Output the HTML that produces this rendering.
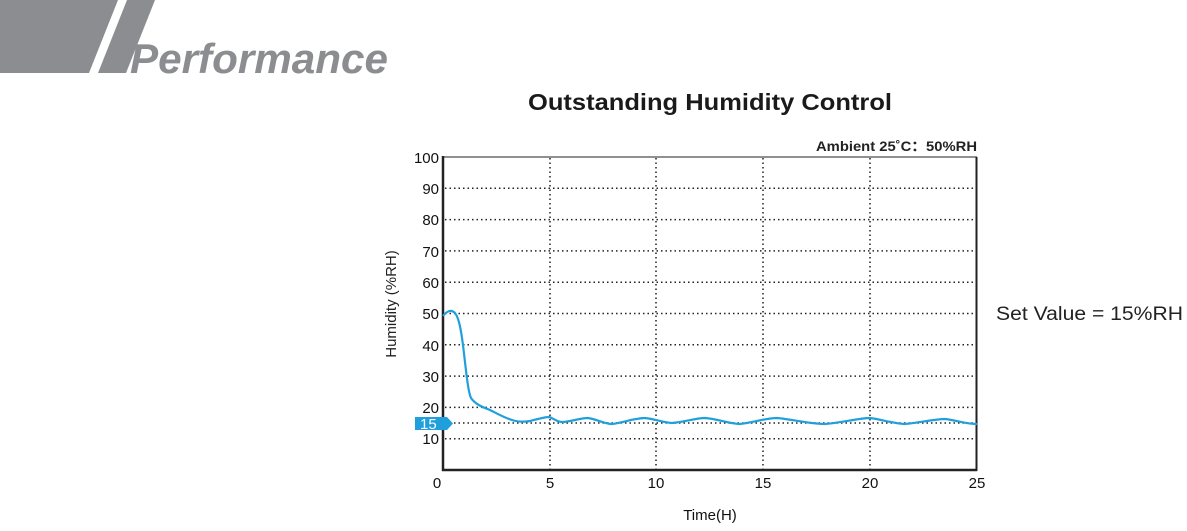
<!DOCTYPE html>
<html><head><meta charset="utf-8"><style>
body{margin:0;background:#fff;width:1187px;height:526px;overflow:hidden;font-family:"Liberation Sans",Arial,sans-serif}
</style></head><body>
<svg width="1187" height="526" xmlns="http://www.w3.org/2000/svg" font-family="Liberation Sans, Arial, sans-serif">
<polygon points="0,0 118,0 89,73 0,73" fill="#8c8d91"/>
<polygon points="127,0 155,0 126,73 98,73" fill="#8c8d91"/>
<text x="130" y="73" font-size="42" font-weight="bold" font-style="italic" fill="#8c8d91" textLength="258" lengthAdjust="spacingAndGlyphs">Performance</text>
<text x="710" y="110" font-size="23" font-weight="bold" text-anchor="middle" fill="#1a1a1a" textLength="364" lengthAdjust="spacingAndGlyphs">Outstanding Humidity Control</text>
<text x="977" y="151" font-size="14" font-weight="bold" text-anchor="end" fill="#222" textLength="161" lengthAdjust="spacingAndGlyphs">Ambient 25˚C：50%RH</text>
<g stroke="#222" stroke-width="1.5" stroke-dasharray="1.5,3">
<line x1="445" x2="976" y1="188.3" y2="188.3"/><line x1="445" x2="976" y1="219.6" y2="219.6"/>
<line x1="445" x2="976" y1="250.9" y2="250.9"/><line x1="445" x2="976" y1="282.2" y2="282.2"/>
<line x1="445" x2="976" y1="313.5" y2="313.5"/><line x1="445" x2="976" y1="344.8" y2="344.8"/>
<line x1="445" x2="976" y1="376.1" y2="376.1"/><line x1="445" x2="976" y1="407.4" y2="407.4"/>
<line x1="445" x2="976" y1="423" y2="423"/><line x1="445" x2="976" y1="438.7" y2="438.7"/>
<line x1="550" x2="550" y1="158" y2="469"/><line x1="656" x2="656" y1="158" y2="469"/>
<line x1="763" x2="763" y1="158" y2="469"/><line x1="870" x2="870" y1="158" y2="469"/>
</g>
<line x1="443" y1="157" x2="977" y2="157" stroke="#222" stroke-width="1"/>
<line x1="976.5" y1="157" x2="976.5" y2="471" stroke="#222" stroke-width="2"/>
<line x1="443" y1="156" x2="443" y2="471" stroke="#222" stroke-width="2.5"/>
<line x1="442" y1="470" x2="977" y2="470" stroke="#222" stroke-width="2.5"/>
<g font-size="15" fill="#111" text-anchor="end">
<text x="439" y="163">100</text><text x="439" y="194">90</text><text x="439" y="225">80</text>
<text x="439" y="257">70</text><text x="439" y="288">60</text><text x="439" y="319">50</text>
<text x="439" y="351">40</text><text x="439" y="382">30</text><text x="439" y="413">20</text>
<text x="439" y="444">10</text>
</g>
<polygon points="415,417 447,417 453,423.5 447,430 415,430" fill="#1fa0dc"/>
<text x="420" y="429" font-size="15" fill="#fff">15</text>
<g font-size="15" fill="#111" text-anchor="middle">
<text x="437" y="488">0</text><text x="550" y="488">5</text><text x="656" y="488">10</text>
<text x="763" y="488">15</text><text x="870" y="488">20</text><text x="977" y="488">25</text>
<text x="710" y="520">Time(H)</text>
</g>
<text transform="translate(396,304) rotate(-90)" font-size="15" fill="#222" text-anchor="middle">Humidity (%RH)</text>
<text x="996" y="320" font-size="19" fill="#222" textLength="187" lengthAdjust="spacingAndGlyphs">Set Value = 15%RH</text>
<path fill="none" stroke="#1fa0dc" stroke-width="2.2" d="M443,316 C447,311 451,309 455,313 C459,318 461,330 463,345 C466,370 468,392 471,398 C475,404 482,407 490,410 C498,414 505,418 512,420 C518,422 524,422 530,421 C538,419 545,417 549,417 C553,418 557,422 562,422 C570,422 580,418 588,418 C596,419 605,424 612,424 C622,423 635,418 645,418 C655,419 665,423 672,423 C685,422 696,418 705,418 C718,419 730,424 740,424 C752,423 765,418 777,418 C790,419 810,424 825,424 C840,423 860,418 870,418 C880,419 895,424 905,424 C918,423 935,419 945,419 C955,420 965,424 977,424"/>
</svg>
</body></html>
